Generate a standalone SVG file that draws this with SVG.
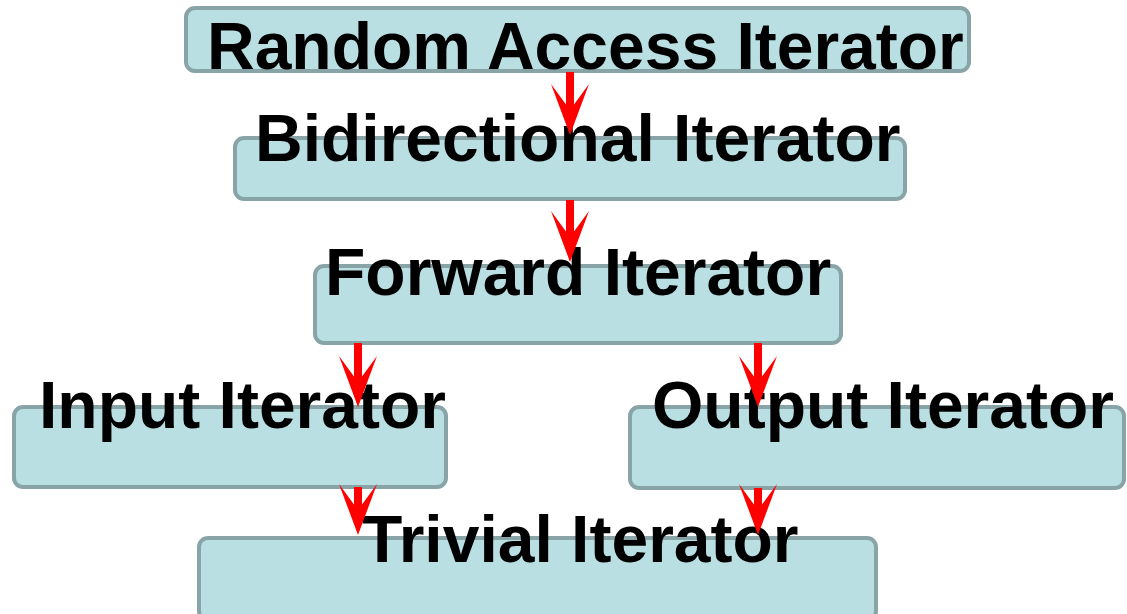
<svg xmlns="http://www.w3.org/2000/svg" width="1127" height="614" viewBox="0 0 1127 614">
  <style>
    .box { fill: #b9dfe3; stroke: #88a4a7; stroke-width: 4; }
    .label { font-family: "Liberation Sans", Arial, sans-serif; font-weight: bold; font-size: 66px; fill: #000; }
    .edge { stroke: #ff0000; stroke-width: 8; fill: none; }
  </style>
  <defs>
    <marker id="head" markerUnits="userSpaceOnUse" viewBox="0 0 51 38" markerWidth="51" markerHeight="38" refX="26" refY="19" orient="auto">
      <path d="M0,0 L51,19 L0,38 L26,19 Z" fill="#ff0000"/>
    </marker>
  </defs>

  <g id="random-access">
    <rect class="box" x="186" y="8" width="783" height="63" rx="9"/>
    <text class="label" x="207" y="69">Random Access Iterator</text>
  </g>
  <g id="bidirectional">
    <rect class="box" x="235" y="138" width="670" height="61" rx="9"/>
    <text class="label" x="255" y="161">Bidirectional Iterator</text>
  </g>
  <g id="forward">
    <rect class="box" x="315" y="266" width="526" height="77" rx="9"/>
    <text class="label" x="325" y="295">Forward Iterator</text>
  </g>
  <g id="input">
    <rect class="box" x="14" y="407" width="432" height="80" rx="9"/>
    <text class="label" x="39" y="428">Input Iterator</text>
  </g>
  <g id="output">
    <rect class="box" x="630" y="407" width="494" height="81" rx="9"/>
    <text class="label" x="652" y="428">Output Iterator</text>
  </g>
  <g id="trivial">
    <rect class="box" x="199" y="538" width="677" height="82" rx="9"/>
    <text class="label" x="362" y="562">Trivial Iterator</text>
  </g>

  <g id="connectors">
    <line class="edge" x1="570" y1="72" x2="570" y2="110" marker-end="url(#head)"/>
    <line class="edge" x1="570" y1="200" x2="570" y2="237" marker-end="url(#head)"/>
    <line class="edge" x1="358" y1="343" x2="358" y2="382" marker-end="url(#head)"/>
    <line class="edge" x1="758" y1="343" x2="758" y2="382" marker-end="url(#head)"/>
    <line class="edge" x1="358" y1="487" x2="358" y2="510" marker-end="url(#head)"/>
    <line class="edge" x1="758" y1="488" x2="758" y2="510" marker-end="url(#head)"/>
  </g>
</svg>
